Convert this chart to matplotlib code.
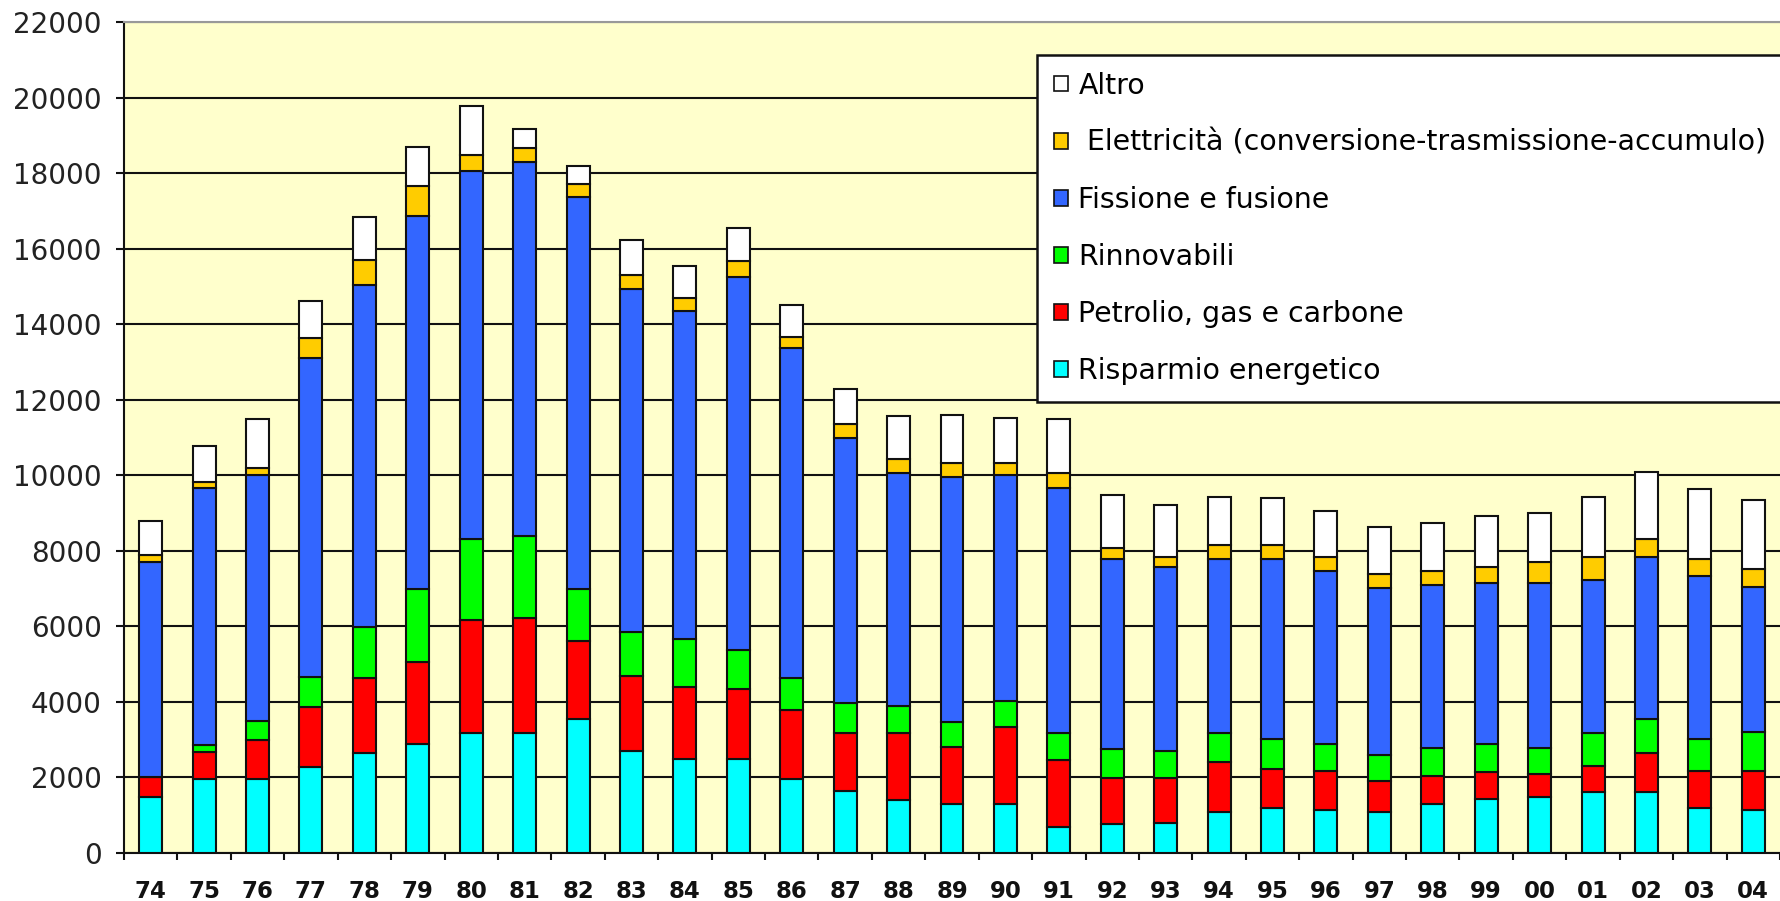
import matplotlib
matplotlib.use("Agg")
import matplotlib.pyplot as plt
from matplotlib.patches import Patch
import numpy as np

years = ['74', '75', '76', '77', '78', '79', '80', '81', '82', '83', '84', '85', '86',
         '87', '88', '89', '90', '91', '92', '93', '94', '95', '96', '97', '98', '99',
         '00', '01', '02', '03', '04']

risparmio = [1470, 1940, 1940, 2280, 2650, 2890, 3170, 3170, 3530, 2690, 2470, 2470, 1950,
             1630, 1400, 1300, 1300, 670, 760, 800, 1090, 1180, 1140, 1090, 1280, 1420,
             1470, 1610, 1610, 1180, 1140]
petrolio = [530, 720, 1040, 1590, 1980, 2160, 3000, 3050, 2080, 1980, 1930, 1880, 1830,
            1550, 1780, 1510, 2020, 1790, 1230, 1190, 1310, 1050, 1030, 810, 750, 710,
            610, 700, 1040, 990, 1030]
rinnovabili = [0, 200, 510, 790, 1350, 1950, 2140, 2180, 1390, 1170, 1250, 1030, 840,
               790, 700, 650, 700, 700, 750, 700, 760, 790, 710, 700, 750, 750,
               700, 850, 880, 850, 1040]
fissione = [5700, 6800, 6510, 8460, 9070, 9880, 9750, 9890, 10380, 9100, 8710, 9870, 8750,
            7020, 6170, 6500, 5980, 6510, 5050, 4870, 4630, 4770, 4580, 4410, 4310, 4260,
            4360, 4070, 4310, 4300, 3830]
elettricita = [180, 150, 190, 510, 650, 790, 420, 370, 330, 380, 330, 420, 290,
               380, 370, 370, 330, 400, 280, 270, 370, 370, 380, 370, 370, 420,
               560, 610, 470, 470, 480]
altro = [920, 960, 1290, 990, 1140, 1040, 1310, 520, 480, 910, 850, 890, 850,
         910, 1150, 1280, 1190, 1410, 1410, 1370, 1270, 1230, 1210, 1260, 1270, 1360,
         1310, 1590, 1780, 1840, 1820]

series_names = ['Risparmio energetico', 'Petrolio, gas e carbone', 'Rinnovabili',
                'Fissione e fusione', ' Elettricità (conversione-trasmissione-accumulo)', 'Altro']
series_colors = ['#00FFFF', '#FF0000', '#00FF00', '#3366FF', '#FFCC00', '#FFFFFF']
yticks = [0, 2000, 4000, 6000, 8000, 10000, 12000, 14000, 16000, 18000, 20000, 22000]

W, H = 1780, 901
fig = plt.figure(figsize=(W / 100, H / 100), dpi=100)
fig.patch.set_facecolor('white')
left_px, bottom_px, top_px = 124, 48.3, 22.4
ax = fig.add_axes([left_px / W, bottom_px / H, 1 - left_px / W, (H - bottom_px - top_px) / H])
ax.set_facecolor('#FFFFCC')

x = np.arange(len(years))
bottom = np.zeros(len(years))
all_series = [risparmio, petrolio, rinnovabili, fissione, elettricita, altro]
for vals, name, col in zip(all_series, series_names, series_colors):
    v = np.array(vals, dtype=float)
    ax.bar(x, v, width=0.43, bottom=bottom, color=col, edgecolor='#111111',
           linewidth=1.5, zorder=3)
    bottom += v

ax.set_xlim(-0.5, 30.28)
ax.set_ylim(0, 22000)
ax.set_yticks(yticks)
ax.set_yticklabels([str(t) for t in yticks], fontsize=20, color='#222222')
ax.tick_params(axis='y', direction='out', length=6, width=1.5, pad=10, color='#111111')
ax.grid(axis='y', color='#111111', linewidth=1.5, zorder=0)
ax.set_axisbelow(True)

ax.set_xticks(x)
ax.set_xticklabels(years, fontsize=16.5, fontweight='bold', color='#111111')
ax.tick_params(axis='x', which='major', length=0, pad=19.5)
ax.set_xticks(np.arange(-0.5, len(years), 1.0), minor=True)
ax.tick_params(axis='x', which='minor', direction='out', length=5, width=1.5, color='#111111')

for s in ['left', 'bottom']:
    ax.spines[s].set_color('#111111')
    ax.spines[s].set_linewidth(1.5)
ax.spines['top'].set_color('#999999')
ax.spines['top'].set_linewidth(1.5)
ax.spines['right'].set_visible(False)

handles = [Patch(facecolor=c, edgecolor='#111111', linewidth=1.2)
           for c in series_colors][::-1]
labels = series_names[::-1]
leg = ax.legend(handles, labels, loc='upper left',
                bbox_to_anchor=(0.5513, 0.5428, 0.6, 0.4185), mode='expand',
                fontsize=20.4, frameon=True, fancybox=False, framealpha=1,
                edgecolor='#111111', labelspacing=1.03, borderpad=0.6,
                handlelength=0.48, handleheight=0.48, handletextpad=0.38,
                borderaxespad=0)
leg.get_frame().set_linewidth(1.8)
leg.set_zorder(10)

fig.savefig('out.png', dpi=100, facecolor='white')
